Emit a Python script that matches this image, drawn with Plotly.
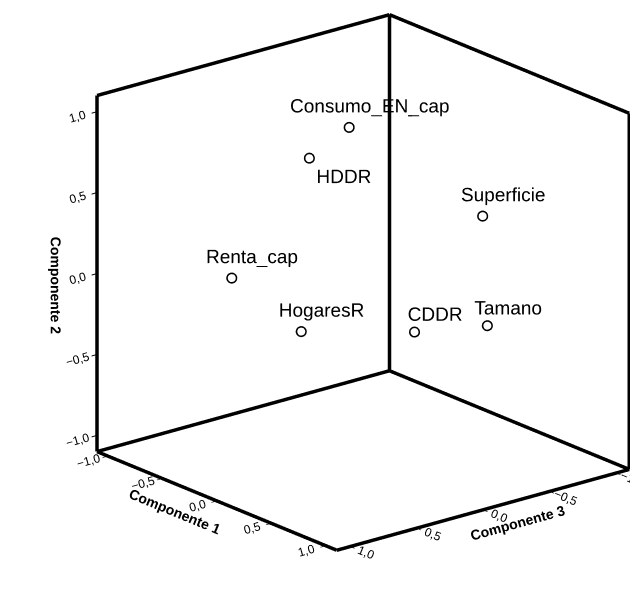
import plotly.graph_objects as go
import numpy as np

# Variables and their component loadings
variables = ["Consumo_EN_cap", "HDDR", "Superficie", "Renta_cap", "HogaresR", "CDDR", "Tamano"]
comp1 = [-0.18, -0.24, 0.74, -0.33, 0.10, 0.20, 0.60]
comp2 = [0.90, 0.75, 0.55, 0.10, -0.15, -0.30, -0.20]
comp3 = [-0.04, 0.21, -0.29, 0.72, 0.55, -0.22, -0.44]
label_pos = ["top center", "bottom right", "top center", "top center", "top center", "top center", "top center"]

tick_vals = [-1.0, -0.5, 0.0, 0.5, 1.0]
lo, hi = -1.1, 1.1

# Frame: the edges of the three back walls (x = comp3, y = comp1, z = comp2)
edges = [
    [(hi, lo, lo), (lo, lo, lo)], [(lo, lo, lo), (lo, hi, lo)],
    [(hi, lo, lo), (hi, hi, lo)], [(hi, hi, lo), (lo, hi, lo)],
    [(hi, lo, lo), (hi, lo, hi)], [(lo, lo, lo), (lo, lo, hi)], [(lo, hi, lo), (lo, hi, hi)],
    [(hi, lo, hi), (lo, lo, hi)], [(lo, lo, hi), (lo, hi, hi)],
]
ex, ey, ez = [], [], []
for a, b in edges:
    for p in (a, b):
        ex.append(p[0]); ey.append(p[1]); ez.append(p[2])
    ex.append(None); ey.append(None); ez.append(None)

# label anchors: nudged from their marker along screen-right / screen-up
right_dir = np.array([-0.778, 0.638])  # (comp3, comp1) components of screen-right
nudge_right = {"top center": 0.12, "bottom right": -0.058}
nudge_up = {"top center": -0.05, "bottom right": 0.045}
lab_x = [c3 + nudge_right[p] * right_dir[0] for c3, p in zip(comp3, label_pos)]
lab_y = [c1 + nudge_right[p] * right_dir[1] for c1, p in zip(comp1, label_pos)]
lab_z = [c2 + nudge_up[p] for c2, p in zip(comp2, label_pos)]

fig = go.Figure()
fig.add_trace(go.Scatter3d(x=ex, y=ey, z=ez, mode="lines",
                           line=dict(color="black", width=7),
                           hoverinfo="skip", showlegend=False))
fig.add_trace(go.Scatter3d(
    x=comp3, y=comp1, z=comp2, mode="markers",
    marker=dict(symbol="circle-open", size=6, color="black", line=dict(width=1, color="black")),
    showlegend=False))
fig.add_trace(go.Scatter3d(
    x=lab_x, y=lab_y, z=lab_z, mode="text",
    text=variables, textposition=label_pos,
    textfont=dict(family="Liberation Sans, Arial", size=19, color="black"),
    hoverinfo="skip", showlegend=False))

axis_common = dict(
    range=[lo, hi], tickvals=tick_vals, tickformat=".1f",
    showgrid=False, zeroline=False, showbackground=False, showspikes=False,
    showline=False, ticks="outside", ticklen=7, tickwidth=2, tickcolor="black",
    tickfont=dict(family="Liberation Sans, Arial", size=12, color="black"),
)
title_font = dict(family="Liberation Sans, Arial", size=14, color="black", weight="bold")

D = 1.41
view = np.array([0.600, 0.732, 0.339])
center = np.array([0.1365, -0.0875, -0.052])
eye = center + view * D
s = 1.265
fig.update_layout(
    width=630, height=598,
    margin=dict(l=0, r=0, t=0, b=0),
    paper_bgcolor="white",
    separators=",.",
    scene=dict(
        domain=dict(x=[0, 1], y=[0, 1]),
        xaxis=dict(title=dict(text="Componente 3", font=title_font), **axis_common),
        yaxis=dict(title=dict(text="Componente 1", font=title_font), **axis_common),
        zaxis=dict(title=dict(text="Componente 2", font=title_font), **axis_common),
        aspectmode="manual",
        aspectratio=dict(x=s, y=s, z=s),
        camera=dict(
            eye=dict(x=eye[0], y=eye[1], z=eye[2]),
            up=dict(x=0, y=0, z=1),
            center=dict(x=center[0], y=center[1], z=center[2]),
            projection=dict(type="orthographic"),
        ),
    ),
)
fig.write_html("out.html")
